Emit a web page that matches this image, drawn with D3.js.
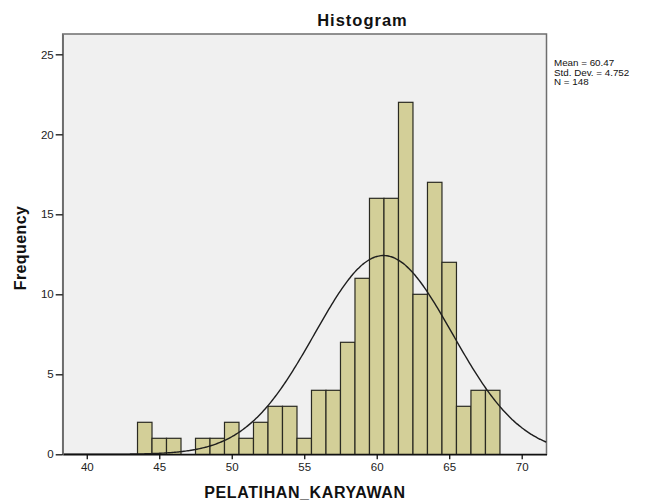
<!DOCTYPE html>
<html>
<head>
<meta charset="utf-8">
<script src="https://cdn.jsdelivr.net/npm/d3@7"></script>
<style>
  body { margin: 0; background: #fff; }
  text { font-family: "Liberation Sans", Arial, sans-serif; }
</style>
</head>
<body>
<div id="chart"></div>
<script>
// histogram data (bin centres, width 1)
var binCenters = [44, 45, 46, 47, 48, 49, 50, 51, 52, 53, 54, 55, 56, 57, 58, 59, 60, 61, 62, 63, 64, 65, 66, 67, 68];
var frequencies = [2, 1, 1, 0, 1, 1, 2, 1, 2, 3, 3, 1, 4, 4, 7, 11, 16, 16, 22, 10, 17, 12, 3, 4, 4];
var xTicks = [40, 45, 50, 55, 60, 65, 70];
var yTicks = [0, 5, 10, 15, 20, 25];
var statLines = ["Mean = 60.47", "Std. Dev. = 4.752", "N = 148"];
var mean = 60.47, sd = 4.752, n = 148, binWidth = 1;

var width = 654, height = 502;
var plotLeft = 62.7, plotRight = 546.5, plotTop = 34, plotBottom = 454.3;

var svg = d3.select("#chart")
  .append("svg")
    .attr("width", width)
    .attr("height", height);

var x = d3.scaleLinear()
  .domain([38.34, 71.71])
  .range([plotLeft, plotRight]);

var y = d3.scaleLinear()
  .domain([0, 26.27])
  .range([plotBottom, plotTop]);

// plot background + frame
svg.append("rect")
  .attr("x", plotLeft)
  .attr("y", plotTop)
  .attr("width", plotRight - plotLeft)
  .attr("height", plotBottom - plotTop)
  .attr("fill", "#f0f0f0")
  .attr("stroke", "#6e6e6e")
  .attr("stroke-width", 1.5);

svg.append("clipPath").attr("id", "clip")
  .append("rect")
    .attr("x", plotLeft)
    .attr("y", plotTop)
    .attr("width", plotRight - plotLeft)
    .attr("height", plotBottom - plotTop);

// bars
svg.append("g")
  .selectAll("rect")
  .data(binCenters.map(function(c, i) { return {c: c, f: frequencies[i]}; }).filter(function(d) { return d.f > 0; }))
  .enter()
  .append("rect")
    .attr("x", function(d) { return x(d.c - binWidth / 2); })
    .attr("y", function(d) { return y(d.f); })
    .attr("width", function(d) { return x(d.c + binWidth / 2) - x(d.c - binWidth / 2); })
    .attr("height", function(d) { return y(0) - y(d.f); })
    .attr("fill", "#d3cf98")
    .attr("stroke", "#2a2a22")
    .attr("stroke-width", 1.2);

// normal curve
var curvePts = d3.range(38.3, 71.8, 0.1).map(function(v) {
  var z = (v - mean) / sd;
  return [v, n * binWidth / (sd * Math.sqrt(2 * Math.PI)) * Math.exp(-0.5 * z * z)];
});
svg.append("path")
  .datum(curvePts)
  .attr("clip-path", "url(#clip)")
  .attr("fill", "none")
  .attr("stroke", "#1e1e1e")
  .attr("stroke-width", 1.4)
  .attr("d", d3.line()
    .curve(d3.curveBasis)
    .x(function(d) { return x(d[0]); })
    .y(function(d) { return y(d[1]); }));

// x axis
var xAxis = svg.append("g")
  .attr("transform", "translate(0," + plotBottom + ")")
  .call(d3.axisBottom(x).tickValues(xTicks).tickSize(5).tickSizeOuter(0).tickPadding(4));
xAxis.select(".domain").attr("stroke", "#111").attr("stroke-width", 1.5);
xAxis.selectAll(".tick line").attr("stroke", "#111").attr("stroke-width", 1.3);
xAxis.selectAll(".tick text").attr("font-size", 11.5).attr("fill", "#222")
  .attr("font-family", "Liberation Sans, Arial, sans-serif");

// y axis
var yAxis = svg.append("g")
  .attr("transform", "translate(" + plotLeft + ",0)")
  .call(d3.axisLeft(y).tickValues(yTicks).tickSize(7).tickSizeOuter(0).tickPadding(2));
yAxis.select(".domain").attr("stroke", "#6e6e6e").attr("stroke-width", 1.5);
yAxis.selectAll(".tick line").attr("stroke", "#111").attr("stroke-width", 1.3);
yAxis.selectAll(".tick text").attr("font-size", 11.5).attr("fill", "#222")
  .attr("font-family", "Liberation Sans, Arial, sans-serif");

// titles
svg.append("text")
  .attr("x", 362.5)
  .attr("y", 26)
  .attr("text-anchor", "middle")
  .attr("font-size", 16.5)
  .attr("letter-spacing", 1)
  .attr("font-weight", "bold")
  .attr("fill", "#111")
  .text("Histogram");

svg.append("text")
  .attr("x", 305)
  .attr("y", 498)
  .attr("text-anchor", "middle")
  .attr("font-size", 16)
  .attr("letter-spacing", 0.6)
  .attr("font-weight", "bold")
  .attr("fill", "#111")
  .text("PELATIHAN_KARYAWAN");

svg.append("text")
  .attr("transform", "translate(25.5,248) rotate(-90)")
  .attr("text-anchor", "middle")
  .attr("font-size", 16)
  .attr("letter-spacing", 0.4)
  .attr("font-weight", "bold")
  .attr("fill", "#111")
  .text("Frequency");

// stats box text
svg.append("g")
  .selectAll("text")
  .data(statLines)
  .enter()
  .append("text")
    .attr("x", 554)
    .attr("y", function(d, i) { return 66 + i * 9.6; })
    .attr("font-size", 9.8)
    .attr("fill", "#111")
    .text(function(d) { return d; });
</script>
</body>
</html>
